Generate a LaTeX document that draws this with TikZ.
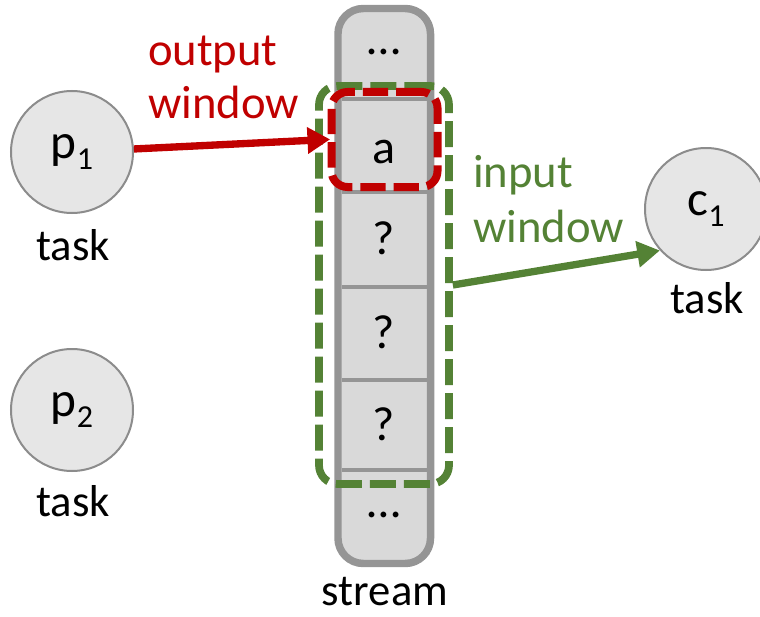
\documentclass[tikz,border=0pt]{standalone}
\usepackage{fontspec}
\setmainfont{Carlito}
\usetikzlibrary{arrows.meta}
\definecolor{myred}{HTML}{C00000}
\definecolor{mygreen}{HTML}{548235}
\definecolor{cellgray}{HTML}{D9D9D9}
\definecolor{streamgray}{HTML}{959595}
\definecolor{circfill}{HTML}{E6E6E6}
\definecolor{circline}{HTML}{8C8C8C}
\newcommand{\blacktext}{\fontsize{33.5}{40}\selectfont}
\newcommand{\celltextsize}{\fontsize{36}{40}\selectfont}
\newcommand{\colortext}{\fontsize{35}{40}\selectfont}
\newcommand{\subnum}[1]{\raisebox{-8.5pt}{\fontsize{24}{26}\selectfont #1}}
\begin{document}
\begin{tikzpicture}[x=0.75pt,y=-0.75pt,
  streambox/.style={draw=streamgray, line width=5.6pt, fill=cellgray, rounded corners=19pt, inner sep=0pt},
  divider/.style={draw=streamgray, line width=2.4pt},
  celltext/.style={anchor=base, inner sep=0pt, font=\celltextsize},
  task/.style={circle, draw=circline, fill=circfill, line width=1.5pt, minimum size=91.5pt, inner sep=0pt, font=\fontsize{37}{40}\selectfont},
  tasklabel/.style={anchor=base, inner sep=0pt, font=\blacktext},
  outwin/.style={draw=myred, line width=6pt, dash pattern=on 19pt off 6pt, rounded corners=12pt, inner sep=0pt, minimum width=79.5pt, minimum height=71.25pt},
  inwin/.style={draw=mygreen, line width=5.8pt, dash pattern=on 19.5pt off 6pt, rounded corners=14pt, inner sep=0pt, minimum width=97.5pt, minimum height=298.5pt},
  redlabel/.style={anchor=base west, inner sep=0pt, text=myred, font=\colortext},
  greenlabel/.style={anchor=base west, inner sep=0pt, text=mygreen, font=\colortext},
  redarrow/.style={draw=myred, line width=5.5pt, -{Triangle[length=17pt,width=19pt]}, shorten >=-2pt},
  greenarrow/.style={draw=mygreen, line width=5.5pt, -{Triangle[length=17pt,width=19pt]}}
]
\useasboundingbox (0,0) rectangle (760,617);

% stream
\node[streambox, minimum width=69.4pt, minimum height=416.25pt] (stream) at (384.25,286) {};
\coordinate (d1l) at (341.5,99);  \coordinate (d1r) at (427,99);
\coordinate (d2l) at (341.5,192); \coordinate (d2r) at (427,192);
\coordinate (d3l) at (341.5,287); \coordinate (d3r) at (427,287);
\coordinate (d4l) at (341.5,380); \coordinate (d4r) at (427,380);
\coordinate (d5l) at (341.5,470); \coordinate (d5r) at (427,470);
\draw[divider] (d1l) -- (d1r);
\draw[divider] (d2l) -- (d2r);
\draw[divider] (d3l) -- (d3r);
\draw[divider] (d4l) -- (d4r);
\draw[divider] (d5l) -- (d5r);

\node[celltext] (ctop) at (384,55) {…};
\node[celltext] (ca) at (384,163) {a};
\node[celltext] (cq1) at (384,254) {?};
\node[celltext] (cq2) at (384,348) {?};
\node[celltext] (cq3) at (384,440) {?};
\node[celltext] (cbot) at (384,517) {…};
\node[tasklabel] (slabel) at (385,605) {stream};

% windows
\node[inwin] (gw) at (384,285) {};
\node[outwin] (rw) at (384.5,139.5) {};

% tasks
\node[task] (p1) at (72,152) {p\subnum{1}};
\node[task] (p2) at (72,410) {p\subnum{2}};
\node[task] (c1) at (706,209) {c\subnum{1}};
\node[tasklabel] (t1) at (73,260) {task};
\node[tasklabel] (t2) at (73,516) {task};
\node[tasklabel] (t3) at (707,313) {task};

% labels
\node[redlabel] (ol1) at (148,65) {output};
\node[redlabel] (ol2) at (148,118) {window};
\node[greenlabel] (il1) at (473,187) {input};
\node[greenlabel] (il2) at (473,242) {window};

% arrows
\draw[redarrow] (p1) -- (rw.west);
\draw[greenarrow] (gw.east) -- (c1.222);
\end{tikzpicture}
\end{document}
